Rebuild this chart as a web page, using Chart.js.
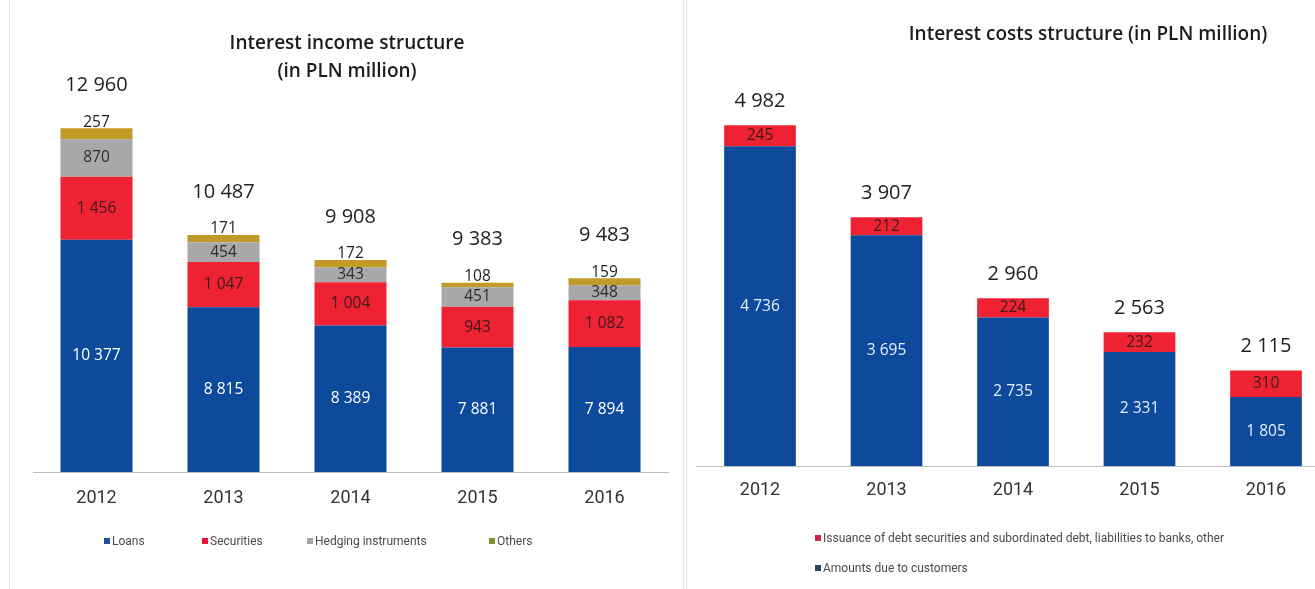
<!DOCTYPE html>
<html>
<head>
<meta charset="utf-8">
<script src="https://cdn.jsdelivr.net/npm/chart.js@4.4.1/dist/chart.umd.min.js"></script>
<style>
  html, body { margin: 0; padding: 0; background: #fff; }
  body { width: 1315px; height: 589px; overflow: hidden; position: relative; font-family: "Open Sans", sans-serif; }
  .vline { position: absolute; top: 0; width: 1px; height: 589px; background: #e4e4e4; }
  .wrap { position: absolute; top: 0; height: 589px; }
  canvas { display: block; }
  .title { position: absolute; color: #1c1c1c; font-weight: 600; font-size: 19px; line-height: 28px; text-align: center; white-space: nowrap; transform: translateX(-50%); }
  .lg { position: absolute; font-family: Roboto, sans-serif; font-size: 12px; color: #4a4a4a; white-space: nowrap; line-height: 14px; transform: translateY(-50%); }
  .lg i { display: inline-block; width: 6px; height: 6px; margin-right: 2px; vertical-align: 1px; }
</style>
</head>
<body>
<div class="vline" style="left:9px"></div>
<div class="vline" style="left:683px"></div>
<div class="vline" style="left:686px"></div>

<div class="wrap" style="left:0;width:683px"><canvas id="income" width="683" height="589"></canvas></div>
<div class="wrap" style="left:686px;width:660px"><canvas id="costs" width="660" height="589"></canvas></div>

<div class="title" style="left:347px;top:28px">Interest income structure<br>(in PLN million)</div>
<div class="title" style="left:1088px;top:19px">Interest costs structure (in PLN million)</div>

<div class="lg" style="left:104px;top:541px"><i style="background:#1f4fa0"></i>Loans</div>
<div class="lg" style="left:202px;top:541px"><i style="background:#e3173e"></i>Securities</div>
<div class="lg" style="left:307px;top:541px"><i style="background:#a5a5a5"></i>Hedging instruments</div>
<div class="lg" style="left:489px;top:541px"><i style="background:#7f9030"></i>Others</div>

<div class="lg" style="left:815px;top:538px"><i style="background:#c8254f"></i>Issuance of debt securities and subordinated debt, liabilities to banks, other</div>
<div class="lg" style="left:815px;top:568px"><i style="background:#1f4a6b"></i>Amounts due to customers</div>

<script>
// Years shown on both charts
const years = ['2012', '2013', '2014', '2015', '2016'];

// Interest income components (PLN million)
const loans      = [10377, 8815, 8389, 7881, 7894];
const securities = [1456, 1047, 1004, 943, 1082];
const hedging    = [870, 454, 343, 451, 348];
const others     = [257, 171, 172, 108, 159];
const incomeTotals = [12960, 10487, 9908, 9383, 9483];

// Interest cost components (PLN million)
const customers = [4736, 3695, 2735, 2331, 1805];
const issuance  = [245, 212, 224, 232, 310];
const costTotals = [4982, 3907, 2960, 2563, 2115];

const fmt = n => String(n).replace(/\B(?=(\d{3})+(?!\d))/g, ' ');

// Draws the value inside each segment and the total above each stack
const valueLabels = {
  id: 'valueLabels',
  afterDatasetsDraw(chart, args, opts) {
    const ctx = chart.ctx;
    const area = chart.chartArea;
    ctx.save();
    ctx.textAlign = 'center';
    ctx.textBaseline = 'middle';
    chart.data.datasets.forEach((ds, di) => {
      const meta = chart.getDatasetMeta(di);
      ctx.font = '15.5px "Open Sans", sans-serif';
      ctx.fillStyle = ds.labelColor;
      meta.data.forEach((bar, i) => {
        const top = bar.y;
        const base = Math.min(bar.base, area.bottom);
        const y = ds.labelAbove ? top - 6 : (top + base) / 2;
        ctx.fillText(fmt(ds.data[i]), bar.x, y);
      });
    });
    const last = chart.getDatasetMeta(chart.data.datasets.length - 1);
    ctx.font = '20px "Open Sans", sans-serif';
    ctx.fillStyle = '#222';
    last.data.forEach((bar, i) => {
      ctx.fillText(fmt(opts.totals[i]), bar.x, bar.y - opts.gap);
    });
    ctx.restore();
  }
};

function xAxis(pad) {
  return {
    stacked: true,
    offset: true,
    grid: { display: false, drawTicks: false },
    border: { display: true, color: '#bdbdbd', width: 1 },
    ticks: { color: '#333', font: { family: 'Roboto, sans-serif', size: 18 }, padding: pad },
    afterFit: s => { s.height = 40; }
  };
}

function bars(label, data, color, labelColor, above) {
  return {
    label, data,
    backgroundColor: color,
    borderWidth: 0,
    categoryPercentage: 1,
    barPercentage: 0.567,
    clip: 0,
    labelColor,
    labelAbove: !!above
  };
}

new Chart(document.getElementById('income'), {
  type: 'bar',
  data: {
    labels: years,
    datasets: [
      bars('Loans', loans, '#0d4a9c', '#ffffff'),
      bars('Securities', securities, '#ee2233', '#3a1c1c'),
      bars('Hedging instruments', hedging, '#a8a8aa', '#2e2e2e'),
      bars('Others', others, '#c29a28', '#222222', true)
    ]
  },
  options: {
    responsive: false,
    maintainAspectRatio: false,
    animation: false,
    devicePixelRatio: 1,
    layout: { padding: { left: 33, right: 15, top: 40, bottom: 77 } },
    plugins: {
      legend: { display: false },
      tooltip: { enabled: false },
      valueLabels: { totals: incomeTotals, gap: 43 }
    },
    scales: {
      x: xAxis(16),
      y: { stacked: true, display: false, min: 5000, max: 15000 }
    }
  },
  plugins: [valueLabels]
});

new Chart(document.getElementById('costs'), {
  type: 'bar',
  data: {
    labels: years,
    datasets: [
      bars('Amounts due to customers', customers, '#0d4a9c', '#e6efff'),
      bars('Issuance of debt securities and subordinated debt, liabilities to banks, other', issuance, '#ee2233', '#3a1c1c')
    ]
  },
  options: {
    responsive: false,
    maintainAspectRatio: false,
    animation: false,
    devicePixelRatio: 1,
    layout: { padding: { left: 10.75, right: 16.75, top: 38, bottom: 83 } },
    plugins: {
      legend: { display: false },
      tooltip: { enabled: false },
      valueLabels: { totals: costTotals, gap: 24 }
    },
    scales: {
      x: xAxis(14),
      y: { stacked: true, display: false, min: 1000, max: 6000 }
    }
  },
  plugins: [valueLabels]
});
</script>
</body>
</html>
